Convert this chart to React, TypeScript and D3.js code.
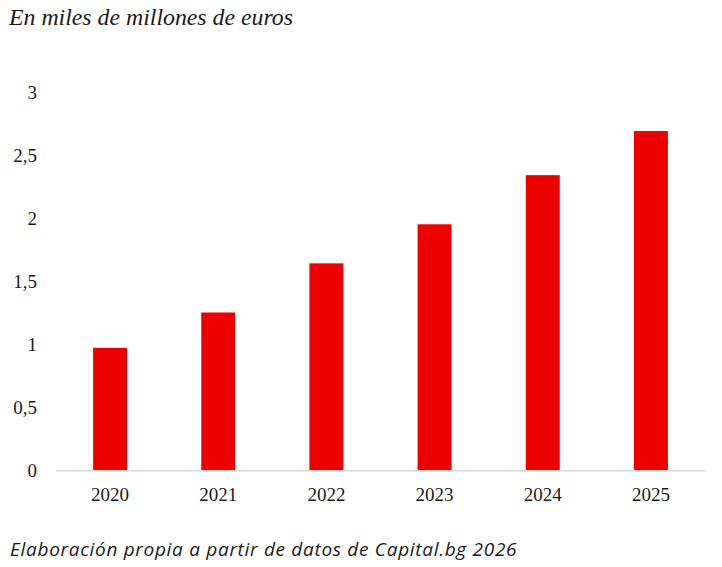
import { useEffect, useRef } from 'react';
import * as d3 from 'd3';

// Data
const years = ['2020', '2021', '2022', '2023', '2024', '2025'];
const values = [0.97, 1.25, 1.64, 1.95, 2.34, 2.69];
const yTicks = [0, 0.5, 1, 1.5, 2, 2.5, 3];

const title = 'En miles de millones de euros';
const source = 'Elaboración propia a partir de datos de Capital.bg 2026';

const WIDTH = 722;
const HEIGHT = 567;

export default function App() {
  const svgRef = useRef<SVGSVGElement>(null);

  useEffect(() => {
    if (!svgRef.current) return;
    const svg = d3.select(svgRef.current);
    svg.selectAll('*').remove();

    const serif = '"Liberation Serif", "DejaVu Serif", serif';
    const sans = '"Open Sans", "Liberation Sans", sans-serif';

    const x = d3.scaleBand<string>()
      .domain(years)
      .range([56, 705])
      .paddingInner(0.686)
      .paddingOuter(0.343);

    const y = d3.scaleLinear()
      .domain([0, 3])
      .range([470, 92]);

    svg.append('rect')
      .attr('width', WIDTH)
      .attr('height', HEIGHT)
      .attr('fill', '#ffffff');

    // Title
    svg.append('text')
      .attr('x', 9)
      .attr('y', 25)
      .attr('font-family', serif)
      .attr('font-style', 'italic')
      .attr('font-size', 23.8)
      .attr('fill', '#1a1a1a')
      .text(title);

    // Y tick labels (no gridlines)
    svg.append('g')
      .selectAll('text')
      .data(yTicks)
      .join('text')
      .attr('x', 37)
      .attr('y', d => y(d))
      .attr('dy', '0.35em')
      .attr('text-anchor', 'end')
      .attr('font-family', serif)
      .attr('font-size', 19)
      .attr('fill', '#1a1a1a')
      .text(d => String(d).replace('.', ','));

    // Bars
    svg.append('g')
      .selectAll('rect')
      .data(years)
      .join('rect')
      .attr('x', d => x(d)!)
      .attr('width', x.bandwidth())
      .attr('y', (_, i) => y(values[i]))
      .attr('height', (_, i) => y(0) - y(values[i]))
      .attr('fill', '#ee0000');

    // Baseline
    svg.append('line')
      .attr('x1', 56)
      .attr('x2', 705)
      .attr('y1', y(0) + 0.75)
      .attr('y2', y(0) + 0.75)
      .attr('stroke', '#d9d9d9')
      .attr('stroke-width', 1.5);

    // X labels
    svg.append('g')
      .selectAll('text')
      .data(years)
      .join('text')
      .attr('x', d => x(d)! + x.bandwidth() / 2)
      .attr('y', 501)
      .attr('text-anchor', 'middle')
      .attr('font-family', serif)
      .attr('font-size', 19)
      .attr('fill', '#1a1a1a')
      .text(d => d);

    // Source note
    svg.append('text')
      .attr('x', 10)
      .attr('y', 556)
      .attr('font-family', sans)
      .attr('font-style', 'italic')
      .attr('font-size', 19)
      .attr('letter-spacing', 0.7)
      .attr('fill', '#1a1a1a')
      .text(source);
  }, []);

  return (
    <svg
      ref={svgRef}
      width={WIDTH}
      height={HEIGHT}
      style={{ position: 'absolute', left: 0, top: 0, display: 'block' }}
    />
  );
}
